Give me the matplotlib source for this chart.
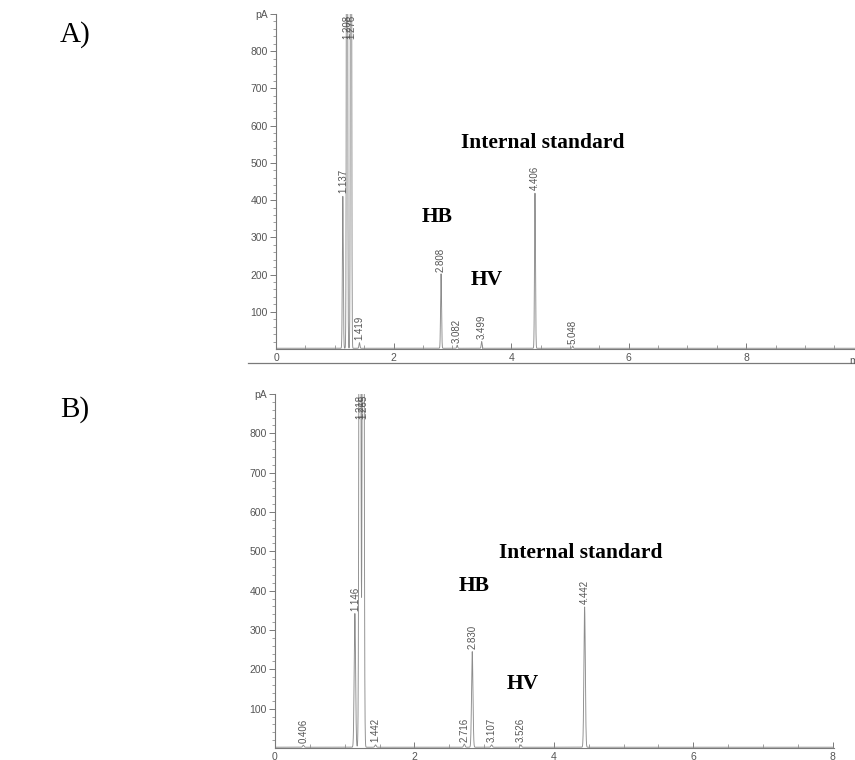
import matplotlib
matplotlib.use('Agg')
import matplotlib.pyplot as plt
import numpy as np
from matplotlib.lines import Line2D

# retention times (min) and peak heights (pA); off-scale peaks given a large height
times_a = [1.137, 1.208, 1.276, 1.419, 2.808, 3.082, 3.499, 4.406, 5.048]
heights_a = [410, 3000, 3000, 15, 200, 8, 18, 418, 6]

times_b = [0.406, 1.146, 1.218, 1.265, 1.442, 2.716, 2.830, 3.107, 3.526, 4.442]
heights_b = [5, 340, 3000, 3000, 6, 8, 243, 6, 6, 357]

y_ticks = [100, 200, 300, 400, 500, 600, 700, 800, 900]
y_tick_labels = ['100', '200', '300', '400', '500', '600', '700', '800', 'pA']
x_ticks = [0, 2, 4, 6, 8]

W, H = 855, 760
fig = plt.figure(figsize=(W / 100, H / 100), dpi=100)

gray = '#7a7a7a'
line_gray = '#8c8c8c'
txt_gray = '#555555'


def px_box(left, top, right, bottom):
    return [left / W, 1 - bottom / H, (right - left) / W, (bottom - top) / H]


def chromatogram(ax, times, heights, xmax, sigma):
    x = np.linspace(0, xmax, 6000)
    y = np.full_like(x, 2.0)
    for t, h in zip(times, heights):
        y += h * np.exp(-0.5 * ((x - t) / sigma) ** 2)
    ax.plot(x, y, color=line_gray, lw=0.65)
    for t, h in zip(times, heights):
        if h > 900:
            ax.text(t, 897, f'{t:.3f}', rotation=90, ha='center', va='top',
                    fontsize=7, color=txt_gray, family='Liberation Sans')
        else:
            ax.text(t, h + 8, f'{t:.3f}', rotation=90, ha='center', va='bottom',
                    fontsize=7, color=txt_gray, family='Liberation Sans')
    ax.set_xlim(0, xmax)
    ax.set_ylim(0, 900)
    ax.set_yticks(y_ticks)
    ax.set_yticklabels(y_tick_labels)
    ax.set_yticks(np.arange(20, 900, 20), minor=True)
    ax.set_xticks(x_ticks)
    ax.set_xticks(np.arange(0, xmax, 0.5), minor=True)
    for s in ['top', 'right']:
        ax.spines[s].set_visible(False)
    for s in ['left', 'bottom']:
        ax.spines[s].set_color(gray)
        ax.spines[s].set_linewidth(0.8)
    ax.tick_params(axis='y', which='major', direction='out', length=4, width=0.7,
                   colors=gray, labelcolor=txt_gray, labelsize=7.5, pad=2)
    ax.tick_params(axis='y', which='minor', direction='out', length=2, width=0.5, colors=gray)
    ax.tick_params(axis='x', which='major', direction='in', length=4, width=0.7,
                   colors=gray, labelcolor=txt_gray, labelsize=7.5, pad=3)
    ax.tick_params(axis='x', which='minor', direction='in', length=3, width=0.5, colors=gray)
    for lab in ax.get_xticklabels() + ax.get_yticklabels():
        lab.set_family('Liberation Sans')
    ax.patch.set_alpha(0)


ax_a = fig.add_axes(px_box(276, 14, 855, 349))
chromatogram(ax_a, times_a, heights_a, 9.85, 0.008)
fig.text(849 / W, 1 - 356 / H, 'min', fontsize=7.5, color=txt_gray,
         family='Liberation Sans', ha='left', va='top')
fig.add_artist(Line2D([248 / W, 1.0], [1 - 363 / H, 1 - 363 / H], color=gray, lw=0.9))

ax_b = fig.add_axes(px_box(275, 394, 834, 748))
chromatogram(ax_b, times_b, heights_b, 8.02, 0.01)

serif = dict(family='Liberation Serif', color='black')
fig.text(60 / W, 1 - 35 / H, 'A)', fontsize=21, ha='left', va='center', **serif)
fig.text(60 / W, 1 - 410 / H, 'B)', fontsize=21, ha='left', va='center', **serif)

lab = dict(fontsize=15.5, fontweight='bold', ha='center', va='center', **serif)
fig.text(543 / W, 1 - 143 / H, 'Internal standard', **lab)
fig.text(437 / W, 1 - 217 / H, 'HB', **lab)
fig.text(487 / W, 1 - 280 / H, 'HV', **lab)
fig.text(581 / W, 1 - 553 / H, 'Internal standard', **lab)
fig.text(474 / W, 1 - 586 / H, 'HB', **lab)
fig.text(523 / W, 1 - 684 / H, 'HV', **lab)

fig.savefig('out.png', dpi=100, facecolor='white')
